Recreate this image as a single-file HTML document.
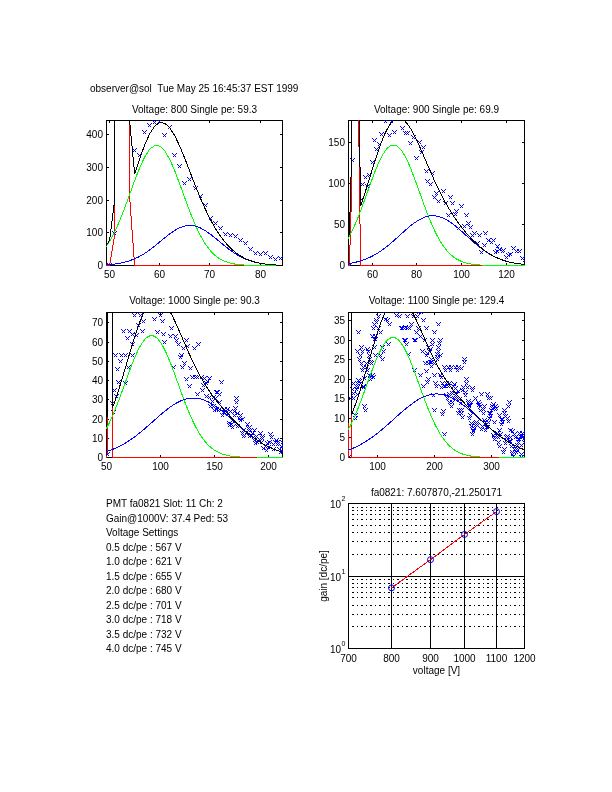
<!DOCTYPE html>
<html><head><meta charset="utf-8"><style>
html,body{margin:0;padding:0;background:#fff;}
svg{display:block;font-family:"Liberation Sans", sans-serif;will-change:transform;}
</style></head><body>
<svg width="612" height="792" viewBox="0 0 612 792">
<defs><clipPath id="clip1"><rect x="106" y="120" width="177" height="146"/></clipPath><clipPath id="clip2"><rect x="348" y="120" width="177" height="146"/></clipPath><clipPath id="clip3"><rect x="106" y="312" width="177" height="146"/></clipPath><clipPath id="clip4"><rect x="348" y="312" width="177" height="146"/></clipPath><clipPath id="clip5"><rect x="348" y="503" width="177" height="146"/></clipPath></defs>
<rect width="612" height="792" fill="#fff"/>
<text x="90.00" y="92.00" text-anchor="start" font-size="10" xml:space="preserve" style="white-space:pre">observer@sol  Tue May 25 16:45:37 EST 1999</text>
<rect x="106.5" y="120.5" width="176" height="145" fill="none" stroke="#000" stroke-width="1" shape-rendering="crispEdges"/>
<text x="109.50" y="277.50" text-anchor="middle" font-size="10" >50</text>
<text x="159.50" y="277.50" text-anchor="middle" font-size="10" >60</text>
<text x="209.50" y="277.50" text-anchor="middle" font-size="10" >70</text>
<text x="260.50" y="277.50" text-anchor="middle" font-size="10" >80</text>
<path d="M109.5 265V263M109.5 121V123M159.5 265V263M159.5 121V123M209.5 265V263M209.5 121V123M260.5 265V263M260.5 121V123" stroke="#000" stroke-width="1" shape-rendering="crispEdges"/>
<text x="103.00" y="269.00" text-anchor="end" font-size="10" >0</text>
<text x="103.00" y="236.00" text-anchor="end" font-size="10" >100</text>
<text x="103.00" y="204.00" text-anchor="end" font-size="10" >200</text>
<text x="103.00" y="171.00" text-anchor="end" font-size="10" >300</text>
<text x="103.00" y="138.00" text-anchor="end" font-size="10" >400</text>
<path d="M107 265.5H109M282 265.5H280M107 232.5H109M282 232.5H280M107 200.5H109M282 200.5H280M107 167.5H109M282 167.5H280M107 134.5H109M282 134.5H280" stroke="#000" stroke-width="1" shape-rendering="crispEdges"/>
<text x="194.50" y="113.00" text-anchor="middle" font-size="10" >Voltage: 800 Single pe: 59.3</text>
<path d="M107.50 263.50L111.50 267.50M107.50 267.50L111.50 263.50M112.50 231.50L116.50 235.50M112.50 235.50L116.50 231.50M117.50 -1373.50L121.50 -1369.50M117.50 -1369.50L121.50 -1373.50M122.50 -1373.50L126.50 -1369.50M122.50 -1369.50L126.50 -1373.50M127.50 -1373.50L131.50 -1369.50M127.50 -1369.50L131.50 -1373.50M132.50 148.50L136.50 152.50M132.50 152.50L136.50 148.50M137.50 153.50L141.50 157.50M137.50 157.50L141.50 153.50M142.50 130.50L146.50 134.50M142.50 134.50L146.50 130.50M147.50 123.50L151.50 127.50M147.50 127.50L151.50 123.50M152.50 120.50L156.50 124.50M152.50 124.50L156.50 120.50M157.50 119.50L161.50 123.50M157.50 123.50L161.50 119.50M162.50 133.50L166.50 137.50M162.50 137.50L166.50 133.50M167.50 125.50L171.50 129.50M167.50 129.50L171.50 125.50M172.50 153.50L176.50 157.50M172.50 157.50L176.50 153.50M177.50 164.50L181.50 168.50M177.50 168.50L181.50 164.50M182.50 181.50L186.50 185.50M182.50 185.50L186.50 181.50M187.50 177.50L191.50 181.50M187.50 181.50L191.50 177.50M193.50 186.50L197.50 190.50M193.50 190.50L197.50 186.50M198.50 194.50L202.50 198.50M198.50 198.50L202.50 194.50M203.50 203.50L207.50 207.50M203.50 207.50L207.50 203.50M208.50 216.50L212.50 220.50M208.50 220.50L212.50 216.50M213.50 221.50L217.50 225.50M213.50 225.50L217.50 221.50M218.50 226.50L222.50 230.50M218.50 230.50L222.50 226.50M223.50 232.50L227.50 236.50M223.50 236.50L227.50 232.50M228.50 233.50L232.50 237.50M228.50 237.50L232.50 233.50M233.50 234.50L237.50 238.50M233.50 238.50L237.50 234.50M238.50 238.50L242.50 242.50M238.50 242.50L242.50 238.50M243.50 241.50L247.50 245.50M243.50 245.50L247.50 241.50M248.50 247.50L252.50 251.50M248.50 251.50L252.50 247.50M253.50 251.50L257.50 255.50M253.50 255.50L257.50 251.50M258.50 252.50L262.50 256.50M258.50 256.50L262.50 252.50M263.50 251.50L267.50 255.50M263.50 255.50L267.50 251.50M268.50 255.50L272.50 259.50M268.50 259.50L272.50 255.50M273.50 257.50L277.50 261.50M273.50 261.50L277.50 257.50M278.50 256.50L282.50 260.50M278.50 260.50L282.50 256.50" stroke="#0000ff" stroke-width="1" fill="none" clip-path="url(#clip1)" shape-rendering="crispEdges"/>
<path d="M106.00 265.50L109.52 265.49L114.55 236.03L114.82 120.00M129.49 120.00L129.63 197.23L134.66 265.47L139.69 265.50L144.72 265.50L149.75 265.50L154.77 265.50L159.80 265.50L164.83 265.50L169.86 265.50L174.89 265.50L179.92 265.50L184.95 265.50L189.97 265.50L195.00 265.50L200.03 265.50L205.06 265.50L210.09 265.50L215.12 265.50L220.15 265.50L225.17 265.50L230.20 265.50L235.23 265.50L240.26 265.50L245.29 265.50L250.32 265.50L255.35 265.50L260.38 265.50L265.40 265.50L270.43 265.50L275.46 265.50L280.49 265.50L283.00 265.50" fill="none" stroke="#ff0000" stroke-width="1" shape-rendering="crispEdges"/>
<path d="M106.00 246.51L109.52 241.39L114.55 232.13L119.57 220.97L124.60 208.22L129.63 194.48L134.66 180.61L139.69 167.69L144.72 156.87L149.75 149.19L154.77 145.46L159.80 146.08L164.83 150.97L169.86 159.62L174.89 171.15L179.92 184.45L184.95 198.38L189.97 211.92L195.00 224.27L200.03 234.92L205.06 243.63L210.09 250.43L215.12 255.49L220.15 259.09L225.17 261.54L230.20 263.14L235.23 264.15L240.26 264.75L245.29 265.10L250.32 265.30L255.35 265.40L260.38 265.45L265.40 265.48L270.43 265.49L275.46 265.50L280.49 265.50L283.00 265.50" fill="none" stroke="#00ff00" stroke-width="1" shape-rendering="crispEdges"/>
<path d="M134.66 265.5H241" stroke="#ff0000" stroke-width="1" shape-rendering="crispEdges"/>
<path d="M106.00 264.85L109.52 264.61L114.55 264.08L119.57 263.32L124.60 262.24L129.63 260.77L134.66 258.83L139.69 256.39L144.72 253.42L149.75 249.94L154.77 246.06L159.80 241.92L164.83 237.74L169.86 233.79L174.89 230.33L179.92 227.64L184.95 225.94L189.97 225.38L195.00 226.01L200.03 227.77L205.06 230.52L210.09 234.01L215.12 237.99L220.15 242.17L225.17 246.30L230.20 250.17L235.23 253.61L240.26 256.55L245.29 258.96L250.32 260.87L255.35 262.31L260.38 263.37L265.40 264.12L270.43 264.63L275.46 264.97L280.49 265.19L283.00 265.25" fill="none" stroke="#0000ff" stroke-width="1" shape-rendering="crispEdges"/>
<path d="M106.00 245.86L109.52 240.49L114.55 201.24L114.74 120.00M129.63 120.00L129.63 121.48L134.66 173.91L139.69 158.58L144.72 144.78L149.75 133.64L154.77 126.02L159.80 122.50L164.83 123.22L169.86 127.91L174.89 135.97L179.92 146.58L184.95 158.82L189.97 171.80L195.00 184.78L200.03 197.19L205.06 208.65L210.09 218.94L215.12 227.98L220.15 235.76L225.17 242.34L230.20 247.81L235.23 252.26L240.26 255.80L245.29 258.57L250.32 260.66L255.35 262.21L260.38 263.32L265.40 264.10L270.43 264.62L275.46 264.97L280.49 265.18L283.00 265.25" fill="none" stroke="#000000" stroke-width="1" shape-rendering="crispEdges"/>
<rect x="348.5" y="120.5" width="176" height="145" fill="none" stroke="#000" stroke-width="1" shape-rendering="crispEdges"/>
<text x="372.50" y="277.50" text-anchor="middle" font-size="10" >60</text>
<text x="416.50" y="277.50" text-anchor="middle" font-size="10" >80</text>
<text x="461.50" y="277.50" text-anchor="middle" font-size="10" >100</text>
<text x="506.50" y="277.50" text-anchor="middle" font-size="10" >120</text>
<path d="M372.5 265V263M372.5 121V123M416.5 265V263M416.5 121V123M461.5 265V263M461.5 121V123M506.5 265V263M506.5 121V123" stroke="#000" stroke-width="1" shape-rendering="crispEdges"/>
<text x="345.00" y="269.00" text-anchor="end" font-size="10" >0</text>
<text x="345.00" y="228.00" text-anchor="end" font-size="10" >50</text>
<text x="345.00" y="187.00" text-anchor="end" font-size="10" >100</text>
<text x="345.00" y="146.00" text-anchor="end" font-size="10" >150</text>
<path d="M349 265.5H351M524 265.5H522M349 224.5H351M524 224.5H522M349 183.5H351M524 183.5H522M349 142.5H351M524 142.5H522" stroke="#000" stroke-width="1" shape-rendering="crispEdges"/>
<text x="436.50" y="113.00" text-anchor="middle" font-size="10" >Voltage: 900 Single pe: 69.9</text>
<path d="M350.50 158.50L354.50 162.50M350.50 162.50L354.50 158.50M360.50 182.50L364.50 186.50M360.50 186.50L364.50 182.50M363.50 175.50L367.50 179.50M363.50 179.50L367.50 175.50M367.50 173.50L371.50 177.50M367.50 177.50L371.50 173.50M365.50 184.50L369.50 188.50M365.50 188.50L369.50 184.50M370.50 160.50L374.50 164.50M370.50 164.50L374.50 160.50M374.50 147.50L378.50 151.50M374.50 151.50L378.50 147.50M377.50 142.50L381.50 146.50M377.50 146.50L381.50 142.50M372.50 138.50L376.50 142.50M372.50 142.50L376.50 138.50M379.50 132.50L383.50 136.50M379.50 136.50L383.50 132.50M383.50 119.50L387.50 123.50M383.50 123.50L387.50 119.50M389.50 119.50L393.50 123.50M389.50 123.50L393.50 119.50M387.50 133.50L391.50 137.50M387.50 137.50L391.50 133.50M392.50 130.50L396.50 134.50M392.50 134.50L396.50 130.50M400.50 126.50L404.50 130.50M400.50 130.50L404.50 126.50M403.50 131.50L407.50 135.50M403.50 135.50L407.50 131.50M405.50 131.50L409.50 135.50M405.50 135.50L409.50 131.50M411.50 135.50L415.50 139.50M411.50 139.50L415.50 135.50M408.50 141.50L412.50 145.50M408.50 145.50L412.50 141.50M417.50 140.50L421.50 144.50M417.50 144.50L421.50 140.50M421.50 145.50L425.50 149.50M421.50 149.50L425.50 145.50M419.50 150.50L423.50 154.50M419.50 154.50L423.50 150.50M414.50 156.50L418.50 160.50M414.50 160.50L418.50 156.50M424.50 169.50L428.50 173.50M424.50 173.50L428.50 169.50M430.50 171.50L434.50 175.50M430.50 175.50L434.50 171.50M425.50 179.50L429.50 183.50M425.50 183.50L429.50 179.50M428.50 182.50L432.50 186.50M428.50 186.50L432.50 182.50M434.50 191.50L438.50 195.50M434.50 195.50L438.50 191.50M441.50 189.50L445.50 193.50M441.50 193.50L445.50 189.50M432.50 195.50L436.50 199.50M432.50 199.50L436.50 195.50M436.50 199.50L440.50 203.50M436.50 203.50L440.50 199.50M448.50 195.50L452.50 199.50M448.50 199.50L452.50 195.50M443.50 201.50L447.50 205.50M443.50 205.50L447.50 201.50M450.50 201.50L454.50 205.50M450.50 205.50L454.50 201.50M459.50 204.50L463.50 208.50M459.50 208.50L463.50 204.50M454.50 209.50L458.50 213.50M454.50 213.50L458.50 209.50M359.50 197.50L363.50 201.50M359.50 201.50L363.50 197.50M347.50 263.50L351.50 267.50M347.50 267.50L351.50 263.50M446.50 213.50L450.50 217.50M446.50 217.50L450.50 213.50M453.50 212.50L457.50 216.50M453.50 216.50L457.50 212.50M464.50 213.50L468.50 217.50M464.50 217.50L468.50 213.50M466.50 221.50L470.50 225.50M466.50 225.50L470.50 221.50M462.50 224.50L466.50 228.50M462.50 228.50L466.50 224.50M468.50 225.50L472.50 229.50M468.50 229.50L472.50 225.50M456.50 226.50L460.50 230.50M456.50 230.50L460.50 226.50M472.50 231.50L476.50 235.50M472.50 235.50L476.50 231.50M470.50 233.50L474.50 237.50M470.50 237.50L474.50 233.50M477.50 233.50L481.50 237.50M477.50 237.50L481.50 233.50M483.50 231.50L487.50 235.50M483.50 235.50L487.50 231.50M475.50 241.50L479.50 245.50M475.50 245.50L479.50 241.50M482.50 243.50L486.50 247.50M482.50 247.50L486.50 243.50M486.50 238.50L490.50 242.50M486.50 242.50L490.50 238.50M489.50 240.50L493.50 244.50M489.50 244.50L493.50 240.50M491.50 238.50L495.50 242.50M491.50 242.50L495.50 238.50M479.50 250.50L483.50 254.50M479.50 254.50L483.50 250.50M495.50 244.50L499.50 248.50M495.50 248.50L499.50 244.50M493.50 250.50L497.50 254.50M493.50 254.50L497.50 250.50M497.50 247.50L501.50 251.50M497.50 251.50L501.50 247.50M495.50 249.50L499.50 253.50M495.50 253.50L499.50 249.50M500.50 249.50L504.50 253.50M500.50 253.50L504.50 249.50M501.50 248.50L505.50 252.50M501.50 252.50L505.50 248.50M504.50 255.50L508.50 259.50M504.50 259.50L508.50 255.50M508.50 252.50L512.50 256.50M508.50 256.50L512.50 252.50M511.50 246.50L515.50 250.50M511.50 250.50L515.50 246.50M514.50 249.50L518.50 253.50M514.50 253.50L518.50 249.50M517.50 249.50L521.50 253.50M517.50 253.50L521.50 249.50M520.50 256.50L524.50 260.50M520.50 260.50L524.50 256.50M522.50 258.50L526.50 262.50M522.50 262.50L526.50 258.50M506.50 253.50L510.50 257.50M506.50 257.50L510.50 253.50" stroke="#0000ff" stroke-width="1" fill="none" clip-path="url(#clip2)" shape-rendering="crispEdges"/>
<path d="M348.00 265.49L349.39 265.48L351.63 191.71L351.66 120.00M358.66 120.00L360.56 265.42L362.79 265.50L365.03 265.50L367.26 265.50L369.49 265.50L371.73 265.50L373.96 265.50L376.19 265.50L378.43 265.50L380.66 265.50L382.89 265.50L385.13 265.50L387.36 265.50L389.59 265.50L391.83 265.50L394.06 265.50L396.29 265.50L398.53 265.50L400.76 265.50L402.99 265.50L405.23 265.50L407.46 265.50L409.69 265.50L411.93 265.50L414.16 265.50L416.39 265.50L418.63 265.50L420.86 265.50L423.09 265.50L425.33 265.50L427.56 265.50L429.79 265.50L432.03 265.50L434.26 265.50L436.49 265.50L438.73 265.50L440.96 265.50L443.19 265.50L445.43 265.50L447.66 265.50L449.89 265.50L452.13 265.50L454.36 265.50L456.59 265.50L458.83 265.50L461.06 265.50L463.29 265.50L465.52 265.50L467.76 265.50L469.99 265.50L472.22 265.50L474.46 265.50L476.69 265.50L478.92 265.50L481.16 265.50L483.39 265.50L485.62 265.50L487.86 265.50L490.09 265.50L492.32 265.50L494.56 265.50L496.79 265.50L499.02 265.50L501.26 265.50L503.49 265.50L505.72 265.50L507.96 265.50L510.19 265.50L512.42 265.50L514.66 265.50L516.89 265.50L519.12 265.50L521.36 265.50L523.59 265.50L525.00 265.50" fill="none" stroke="#ff0000" stroke-width="1" shape-rendering="crispEdges"/>
<path d="M348.00 238.91L349.39 236.42L351.63 232.03L353.86 227.26L356.09 222.13L358.33 216.68L360.56 210.93L362.79 204.95L365.03 198.81L367.26 192.58L369.49 186.34L371.73 180.20L373.96 174.25L376.19 168.60L378.43 163.34L380.66 158.58L382.89 154.42L385.13 150.93L387.36 148.20L389.59 146.27L391.83 145.19L394.06 144.99L396.29 145.67L398.53 147.21L400.76 149.58L402.99 152.73L405.23 156.59L407.46 161.08L409.69 166.12L411.93 171.61L414.16 177.43L416.39 183.50L418.63 189.70L420.86 195.95L423.09 202.14L425.33 208.21L427.56 214.07L429.79 219.66L432.03 224.95L434.26 229.88L436.49 234.45L438.73 238.62L440.96 242.41L443.19 245.80L445.43 248.82L447.66 251.48L449.89 253.80L452.13 255.81L454.36 257.53L456.59 258.99L458.83 260.23L461.06 261.26L463.29 262.11L465.52 262.81L467.76 263.39L469.99 263.85L472.22 264.22L474.46 264.51L476.69 264.75L478.92 264.93L481.16 265.07L483.39 265.18L485.62 265.26L487.86 265.32L490.09 265.37L492.32 265.41L494.56 265.43L496.79 265.45L499.02 265.47L501.26 265.48L503.49 265.48L505.72 265.49L507.96 265.49L510.19 265.49L512.42 265.50L514.66 265.50L516.89 265.50L519.12 265.50L521.36 265.50L523.59 265.50L525.00 265.50" fill="none" stroke="#00ff00" stroke-width="1" shape-rendering="crispEdges"/>
<path d="M360.56 265.5H482" stroke="#ff0000" stroke-width="1" shape-rendering="crispEdges"/>
<path d="M348.00 263.62L349.39 263.41L351.63 263.03L353.86 262.60L356.09 262.10L358.33 261.53L360.56 260.90L362.79 260.18L365.03 259.38L367.26 258.49L369.49 257.50L371.73 256.43L373.96 255.25L376.19 253.97L378.43 252.59L380.66 251.11L382.89 249.54L385.13 247.87L387.36 246.12L389.59 244.28L391.83 242.38L394.06 240.43L396.29 238.43L398.53 236.41L400.76 234.38L402.99 232.35L405.23 230.35L407.46 228.41L409.69 226.53L411.93 224.74L414.16 223.06L416.39 221.52L418.63 220.12L420.86 218.89L423.09 217.85L425.33 217.00L427.56 216.36L429.79 215.94L432.03 215.74L434.26 215.77L436.49 216.02L438.73 216.50L440.96 217.19L443.19 218.08L445.43 219.17L447.66 220.44L449.89 221.87L452.13 223.45L454.36 225.16L456.59 226.97L458.83 228.87L461.06 230.83L463.29 232.83L465.52 234.86L467.76 236.90L469.99 238.91L472.22 240.90L474.46 242.85L476.69 244.73L478.92 246.54L481.16 248.28L483.39 249.92L485.62 251.48L487.86 252.93L490.09 254.29L492.32 255.54L494.56 256.69L496.79 257.75L499.02 258.71L501.26 259.58L503.49 260.36L505.72 261.06L507.96 261.68L510.19 262.22L512.42 262.71L514.66 263.13L516.89 263.50L519.12 263.82L521.36 264.09L523.59 264.32L525.00 264.45" fill="none" stroke="#0000ff" stroke-width="1" shape-rendering="crispEdges"/>
<path d="M348.00 237.02L349.39 234.31L351.63 155.78L351.64 120.00M359.39 120.00L360.56 206.25L362.79 199.63L365.03 192.69L367.26 185.56L369.49 178.35L371.73 171.12L373.96 164.00L376.19 157.06L378.43 150.43L380.66 144.19L382.89 138.45L385.13 133.30L387.36 128.81L389.59 125.05L391.83 122.08L393.98 120.00M403.50 120.00L405.23 121.44L407.46 123.99L409.69 127.15L411.93 130.84L414.16 134.99L416.39 139.51L418.63 144.32L420.86 149.34L423.09 154.49L425.33 159.71L427.56 164.93L429.79 170.10L432.03 175.19L434.26 180.15L436.49 184.97L438.73 189.62L440.96 194.09L443.19 198.38L445.43 202.49L447.66 206.42L449.89 210.17L452.13 213.76L454.36 217.19L456.59 220.46L458.83 223.59L461.06 226.59L463.29 229.45L465.52 232.18L467.76 234.78L469.99 237.26L472.22 239.62L474.46 241.86L476.69 243.98L478.92 245.97L481.16 247.85L483.39 249.60L485.62 251.24L487.86 252.75L490.09 254.16L492.32 255.45L494.56 256.63L496.79 257.70L499.02 258.67L501.26 259.55L503.49 260.34L505.72 261.04L507.96 261.67L510.19 262.22L512.42 262.70L514.66 263.13L516.89 263.50L519.12 263.81L521.36 264.09L523.59 264.32L525.00 264.45" fill="none" stroke="#000000" stroke-width="1" shape-rendering="crispEdges"/>
<rect x="106.5" y="312.5" width="176" height="145" fill="none" stroke="#000" stroke-width="1" shape-rendering="crispEdges"/>
<text x="106.50" y="469.50" text-anchor="middle" font-size="10" >50</text>
<text x="160.50" y="469.50" text-anchor="middle" font-size="10" >100</text>
<text x="214.50" y="469.50" text-anchor="middle" font-size="10" >150</text>
<text x="268.50" y="469.50" text-anchor="middle" font-size="10" >200</text>
<path d="M106.5 457V455M106.5 313V315M160.5 457V455M160.5 313V315M214.5 457V455M214.5 313V315M268.5 457V455M268.5 313V315" stroke="#000" stroke-width="1" shape-rendering="crispEdges"/>
<text x="103.00" y="461.00" text-anchor="end" font-size="10" >0</text>
<text x="103.00" y="442.00" text-anchor="end" font-size="10" >10</text>
<text x="103.00" y="423.00" text-anchor="end" font-size="10" >20</text>
<text x="103.00" y="403.00" text-anchor="end" font-size="10" >30</text>
<text x="103.00" y="384.00" text-anchor="end" font-size="10" >40</text>
<text x="103.00" y="365.00" text-anchor="end" font-size="10" >50</text>
<text x="103.00" y="346.00" text-anchor="end" font-size="10" >60</text>
<text x="103.00" y="326.00" text-anchor="end" font-size="10" >70</text>
<path d="M107 457.5H109M282 457.5H280M107 438.5H109M282 438.5H280M107 419.5H109M282 419.5H280M107 399.5H109M282 399.5H280M107 380.5H109M282 380.5H280M107 361.5H109M282 361.5H280M107 342.5H109M282 342.5H280M107 322.5H109M282 322.5H280" stroke="#000" stroke-width="1" shape-rendering="crispEdges"/>
<text x="194.50" y="304.00" text-anchor="middle" font-size="10" >Voltage: 1000 Single pe: 90.3</text>
<path d="M132.50 313.50L136.50 317.50M132.50 317.50L136.50 313.50M138.50 313.50L142.50 317.50M138.50 317.50L142.50 313.50M141.50 319.50L145.50 323.50M141.50 323.50L145.50 319.50M136.50 323.50L140.50 327.50M136.50 327.50L140.50 323.50M121.50 329.50L125.50 333.50M121.50 333.50L125.50 329.50M127.50 329.50L131.50 333.50M127.50 333.50L131.50 329.50M140.50 329.50L144.50 333.50M140.50 333.50L144.50 329.50M130.50 332.50L134.50 336.50M130.50 336.50L134.50 332.50M134.50 333.50L138.50 337.50M134.50 337.50L138.50 333.50M125.50 336.50L129.50 340.50M125.50 340.50L129.50 336.50M130.50 342.50L134.50 346.50M130.50 346.50L134.50 342.50M113.50 353.50L117.50 357.50M113.50 357.50L117.50 353.50M119.50 353.50L123.50 357.50M119.50 357.50L123.50 353.50M123.50 353.50L127.50 357.50M123.50 357.50L127.50 353.50M130.50 353.50L134.50 357.50M130.50 357.50L134.50 353.50M118.50 359.50L122.50 363.50M118.50 363.50L122.50 359.50M115.50 367.50L119.50 371.50M115.50 371.50L119.50 367.50M126.50 365.50L130.50 369.50M126.50 369.50L130.50 365.50M116.50 380.50L120.50 384.50M116.50 384.50L120.50 380.50M123.50 381.50L127.50 385.50M123.50 385.50L127.50 381.50M152.50 317.50L156.50 321.50M152.50 321.50L156.50 317.50M158.50 313.50L162.50 317.50M158.50 317.50L162.50 313.50M160.50 319.50L164.50 323.50M160.50 323.50L164.50 319.50M155.50 330.50L159.50 334.50M155.50 334.50L159.50 330.50M161.50 332.50L165.50 336.50M161.50 336.50L165.50 332.50M169.50 326.50L173.50 330.50M169.50 330.50L173.50 326.50M161.50 332.50L165.50 336.50M161.50 336.50L165.50 332.50M168.50 334.50L172.50 338.50M168.50 338.50L172.50 334.50M173.50 334.50L177.50 338.50M173.50 338.50L177.50 334.50M174.50 338.50L178.50 342.50M174.50 342.50L178.50 338.50M162.50 340.50L166.50 344.50M162.50 344.50L166.50 340.50M176.50 342.50L180.50 346.50M176.50 346.50L180.50 342.50M184.50 338.50L188.50 342.50M184.50 342.50L188.50 338.50M185.50 344.50L189.50 348.50M185.50 348.50L189.50 344.50M181.50 346.50L185.50 350.50M181.50 350.50L185.50 346.50M192.50 346.50L196.50 350.50M192.50 350.50L196.50 346.50M196.50 342.50L200.50 346.50M196.50 346.50L200.50 342.50M179.50 353.50L183.50 357.50M179.50 357.50L183.50 353.50M178.50 355.50L182.50 359.50M178.50 359.50L182.50 355.50M182.50 361.50L186.50 365.50M182.50 365.50L186.50 361.50M180.50 365.50L184.50 369.50M180.50 369.50L184.50 365.50M171.50 365.50L175.50 369.50M171.50 369.50L175.50 365.50M188.50 366.50L192.50 370.50M188.50 370.50L192.50 366.50M184.50 377.50L188.50 381.50M184.50 381.50L188.50 377.50M190.50 375.50L194.50 379.50M190.50 379.50L194.50 375.50M193.50 375.50L197.50 379.50M193.50 379.50L197.50 375.50M195.50 375.50L199.50 379.50M195.50 379.50L199.50 375.50M199.50 375.50L203.50 379.50M199.50 379.50L203.50 375.50M202.50 376.50L206.50 380.50M202.50 380.50L206.50 376.50M205.50 379.50L209.50 383.50M205.50 383.50L209.50 379.50M187.50 384.50L191.50 388.50M187.50 388.50L191.50 384.50M201.50 383.50L205.50 387.50M201.50 387.50L205.50 383.50M219.50 380.50L223.50 384.50M219.50 384.50L223.50 380.50M215.50 390.50L219.50 394.50M215.50 394.50L219.50 390.50M217.50 392.50L221.50 396.50M217.50 396.50L221.50 392.50M213.50 396.50L217.50 400.50M213.50 400.50L217.50 396.50M112.50 388.50L116.50 392.50M112.50 392.50L116.50 388.50M114.50 394.50L118.50 398.50M114.50 398.50L118.50 394.50M110.50 401.50L114.50 405.50M110.50 405.50L114.50 401.50M111.50 410.50L115.50 414.50M111.50 414.50L115.50 410.50M105.50 452.50L109.50 456.50M105.50 456.50L109.50 452.50M200.50 388.50L204.50 392.50M200.50 392.50L204.50 388.50M195.50 392.50L199.50 396.50M195.50 396.50L199.50 392.50M204.50 394.50L208.50 398.50M204.50 398.50L208.50 394.50M207.50 395.50L211.50 399.50M207.50 399.50L211.50 395.50M214.50 390.50L218.50 394.50M214.50 394.50L218.50 390.50M208.50 404.50L212.50 408.50M208.50 408.50L212.50 404.50M212.50 408.50L216.50 412.50M212.50 412.50L216.50 408.50M216.50 408.50L220.50 412.50M216.50 412.50L220.50 408.50M204.50 381.50L208.50 385.50M204.50 385.50L208.50 381.50M211.50 395.50L215.50 399.50M211.50 399.50L215.50 395.50M217.50 400.50L221.50 404.50M217.50 404.50L221.50 400.50M234.50 400.50L238.50 404.50M234.50 404.50L238.50 400.50M211.50 404.50L215.50 408.50M211.50 408.50L215.50 404.50M214.50 407.50L218.50 411.50M214.50 411.50L218.50 407.50M222.50 407.50L226.50 411.50M222.50 411.50L226.50 407.50M225.50 407.50L229.50 411.50M225.50 411.50L229.50 407.50M228.50 409.50L232.50 413.50M228.50 413.50L232.50 409.50M232.50 409.50L236.50 413.50M232.50 413.50L236.50 409.50M235.50 411.50L239.50 415.50M235.50 415.50L239.50 411.50M232.50 413.50L236.50 417.50M232.50 417.50L236.50 413.50M238.50 413.50L242.50 417.50M238.50 417.50L242.50 413.50M220.50 413.50L224.50 417.50M220.50 417.50L224.50 413.50M240.50 417.50L244.50 421.50M240.50 421.50L244.50 417.50M238.50 418.50L242.50 422.50M238.50 422.50L242.50 418.50M227.50 421.50L231.50 425.50M227.50 425.50L231.50 421.50M245.50 422.50L249.50 426.50M245.50 426.50L249.50 422.50M235.50 424.50L239.50 428.50M235.50 428.50L239.50 424.50M227.50 423.50L231.50 427.50M227.50 427.50L231.50 423.50M230.50 425.50L234.50 429.50M230.50 429.50L234.50 425.50M247.50 425.50L251.50 429.50M247.50 429.50L251.50 425.50M241.50 428.50L245.50 432.50M241.50 432.50L245.50 428.50M252.50 428.50L256.50 432.50M252.50 432.50L256.50 428.50M244.50 430.50L248.50 434.50M244.50 434.50L248.50 430.50M250.50 431.50L254.50 435.50M250.50 435.50L254.50 431.50M241.50 434.50L245.50 438.50M241.50 438.50L245.50 434.50M247.50 434.50L251.50 438.50M247.50 438.50L251.50 434.50M258.50 431.50L262.50 435.50M258.50 435.50L262.50 431.50M254.50 434.50L258.50 438.50M254.50 438.50L258.50 434.50M260.50 434.50L264.50 438.50M260.50 438.50L264.50 434.50M251.50 435.50L255.50 439.50M251.50 439.50L255.50 435.50M252.50 438.50L256.50 442.50M252.50 442.50L256.50 438.50M257.50 437.50L261.50 441.50M257.50 441.50L261.50 437.50M269.50 435.50L273.50 439.50M269.50 439.50L273.50 435.50M274.50 438.50L278.50 442.50M274.50 442.50L278.50 438.50M259.50 440.50L263.50 444.50M259.50 444.50L263.50 440.50M265.50 441.50L269.50 445.50M265.50 445.50L269.50 441.50M267.50 440.50L271.50 444.50M267.50 444.50L271.50 440.50M271.50 442.50L275.50 446.50M271.50 446.50L275.50 442.50M263.50 444.50L267.50 448.50M263.50 448.50L267.50 444.50M261.50 446.50L265.50 450.50M261.50 450.50L265.50 446.50M275.50 442.50L279.50 446.50M275.50 446.50L279.50 442.50M280.50 440.50L284.50 444.50M280.50 444.50L284.50 440.50M277.50 447.50L281.50 451.50M277.50 451.50L281.50 447.50M271.50 447.50L275.50 451.50M271.50 451.50L275.50 447.50M279.50 444.50L283.50 448.50M279.50 448.50L283.50 444.50M280.50 449.50L284.50 453.50M280.50 453.50L284.50 449.50M207.50 376.50L211.50 380.50M207.50 380.50L211.50 376.50M210.50 399.50L214.50 403.50M210.50 403.50L214.50 399.50M221.50 410.50L225.50 414.50M221.50 414.50L225.50 410.50M222.50 410.50L226.50 414.50M222.50 414.50L226.50 410.50M224.50 410.50L228.50 414.50M224.50 414.50L228.50 410.50M226.50 411.50L230.50 415.50M226.50 415.50L230.50 411.50M229.50 422.50L233.50 426.50M229.50 426.50L233.50 422.50M233.50 406.50L237.50 410.50M233.50 410.50L237.50 406.50M234.50 396.50L238.50 400.50M234.50 400.50L238.50 396.50M237.50 416.50L241.50 420.50M237.50 420.50L241.50 416.50M240.50 431.50L244.50 435.50M240.50 435.50L244.50 431.50M242.50 433.50L246.50 437.50M242.50 437.50L246.50 433.50M246.50 426.50L250.50 430.50M246.50 430.50L250.50 426.50M248.50 428.50L252.50 432.50M248.50 432.50L252.50 428.50M249.50 433.50L253.50 437.50M249.50 437.50L253.50 433.50M253.50 441.50L257.50 445.50M253.50 445.50L257.50 441.50M255.50 440.50L259.50 444.50M255.50 444.50L259.50 440.50M260.50 436.50L264.50 440.50M260.50 440.50L264.50 436.50M264.50 448.50L268.50 452.50M264.50 452.50L268.50 448.50M266.50 445.50L270.50 449.50M266.50 449.50L270.50 445.50M268.50 432.50L272.50 436.50M268.50 436.50L272.50 432.50M273.50 440.50L277.50 444.50M273.50 444.50L277.50 440.50M275.50 440.50L279.50 444.50M275.50 444.50L279.50 440.50M278.50 450.50L282.50 454.50M278.50 454.50L282.50 450.50" stroke="#0000ff" stroke-width="1" fill="none" clip-path="url(#clip3)" shape-rendering="crispEdges"/>
<path d="M106.00 457.50L107.00 457.46L107.90 312.00M112.01 312.00L112.40 457.32L113.48 457.50L114.56 457.50L115.64 457.50L116.72 457.50L117.80 457.50L118.88 457.50L119.96 457.50L121.04 457.50L122.12 457.50L123.20 457.50L124.28 457.50L125.36 457.50L126.44 457.50L127.52 457.50L128.60 457.50L129.68 457.50L130.76 457.50L131.84 457.50L132.92 457.50L134.00 457.50L135.08 457.50L136.16 457.50L137.24 457.50L138.32 457.50L139.40 457.50L140.48 457.50L141.56 457.50L142.64 457.50L143.72 457.50L144.80 457.50L145.88 457.50L146.96 457.50L148.04 457.50L149.12 457.50L150.20 457.50L151.28 457.50L152.36 457.50L153.44 457.50L154.52 457.50L155.60 457.50L156.68 457.50L157.76 457.50L158.84 457.50L159.92 457.50L161.00 457.50L162.08 457.50L163.16 457.50L164.24 457.50L165.32 457.50L166.40 457.50L167.48 457.50L168.56 457.50L169.64 457.50L170.72 457.50L171.80 457.50L172.88 457.50L173.96 457.50L175.04 457.50L176.12 457.50L177.20 457.50L178.28 457.50L179.36 457.50L180.44 457.50L181.52 457.50L182.60 457.50L183.68 457.50L184.76 457.50L185.84 457.50L186.92 457.50L188.00 457.50L189.08 457.50L190.16 457.50L191.24 457.50L192.32 457.50L193.40 457.50L194.48 457.50L195.56 457.50L196.64 457.50L197.72 457.50L198.80 457.50L199.88 457.50L200.96 457.50L202.04 457.50L203.12 457.50L204.20 457.50L205.28 457.50L206.36 457.50L207.44 457.50L208.52 457.50L209.60 457.50L210.68 457.50L211.76 457.50L212.84 457.50L213.92 457.50L215.00 457.50L216.08 457.50L217.16 457.50L218.24 457.50L219.32 457.50L220.40 457.50L221.48 457.50L222.56 457.50L223.64 457.50L224.72 457.50L225.80 457.50L226.88 457.50L227.96 457.50L229.04 457.50L230.12 457.50L231.20 457.50L232.28 457.50L233.36 457.50L234.44 457.50L235.52 457.50L236.60 457.50L237.68 457.50L238.76 457.50L239.84 457.50L240.92 457.50L242.00 457.50L243.08 457.50L244.16 457.50L245.24 457.50L246.32 457.50L247.40 457.50L248.48 457.50L249.56 457.50L250.64 457.50L251.72 457.50L252.80 457.50L253.88 457.50L254.96 457.50L256.04 457.50L257.12 457.50L258.20 457.50L259.28 457.50L260.36 457.50L261.44 457.50L262.52 457.50L263.60 457.50L264.68 457.50L265.76 457.50L266.84 457.50L267.92 457.50L269.00 457.50L270.08 457.50L271.16 457.50L272.24 457.50L273.32 457.50L274.40 457.50L275.48 457.50L276.56 457.50L277.64 457.50L278.72 457.50L279.80 457.50L280.88 457.50L281.96 457.50L283.00 457.50" fill="none" stroke="#ff0000" stroke-width="1" shape-rendering="crispEdges"/>
<path d="M106.00 429.25L107.00 427.40L108.08 425.31L109.16 423.14L110.24 420.88L111.32 418.53L112.40 416.10L113.48 413.59L114.56 411.01L115.64 408.35L116.72 405.63L117.80 402.85L118.88 400.01L119.96 397.13L121.04 394.20L122.12 391.25L123.20 388.27L124.28 385.27L125.36 382.27L126.44 379.28L127.52 376.30L128.60 373.34L129.68 370.42L130.76 367.55L131.84 364.73L132.92 361.99L134.00 359.32L135.08 356.75L136.16 354.28L137.24 351.93L138.32 349.69L139.40 347.60L140.48 345.64L141.56 343.84L142.64 342.20L143.72 340.73L144.80 339.44L145.88 338.32L146.96 337.40L148.04 336.67L149.12 336.13L150.20 335.79L151.28 335.65L152.36 335.71L153.44 335.98L154.52 336.44L155.60 337.10L156.68 337.95L157.76 338.99L158.84 340.22L159.92 341.62L161.00 343.20L162.08 344.94L163.16 346.84L164.24 348.88L165.32 351.06L166.40 353.37L167.48 355.80L168.56 358.33L169.64 360.96L170.72 363.68L171.80 366.47L172.88 369.32L173.96 372.23L175.04 375.17L176.12 378.14L177.20 381.13L178.28 384.13L179.36 387.13L180.44 390.12L181.52 393.08L182.60 396.02L183.68 398.92L184.76 401.78L185.84 404.58L186.92 407.32L188.00 410.00L189.08 412.62L190.16 415.15L191.24 417.61L192.32 419.99L193.40 422.29L194.48 424.50L195.56 426.62L196.64 428.65L197.72 430.60L198.80 432.45L199.88 434.21L200.96 435.89L202.04 437.48L203.12 438.98L204.20 440.40L205.28 441.73L206.36 442.99L207.44 444.17L208.52 445.27L209.60 446.30L210.68 447.26L211.76 448.15L212.84 448.98L213.92 449.75L215.00 450.46L216.08 451.11L217.16 451.72L218.24 452.27L219.32 452.78L220.40 453.25L221.48 453.68L222.56 454.07L223.64 454.42L224.72 454.75L225.80 455.04L226.88 455.31L227.96 455.55L229.04 455.76L230.12 455.96L231.20 456.13L232.28 456.29L233.36 456.43L234.44 456.56L235.52 456.67L236.60 456.77L237.68 456.86L238.76 456.94L239.84 457.01L240.92 457.07L242.00 457.13L243.08 457.18L244.16 457.22L245.24 457.26L246.32 457.29L247.40 457.32L248.48 457.34L249.56 457.36L250.64 457.38L251.72 457.40L252.80 457.41L253.88 457.43L254.96 457.44L256.04 457.45L257.12 457.45L258.20 457.46L259.28 457.47L260.36 457.47L261.44 457.48L262.52 457.48L263.60 457.48L264.68 457.49L265.76 457.49L266.84 457.49L267.92 457.49L269.00 457.49L270.08 457.49L271.16 457.50L272.24 457.50L273.32 457.50L274.40 457.50L275.48 457.50L276.56 457.50L277.64 457.50L278.72 457.50L279.80 457.50L280.88 457.50L281.96 457.50L283.00 457.50" fill="none" stroke="#00ff00" stroke-width="1" shape-rendering="crispEdges"/>
<path d="M112.40 457.5H257" stroke="#ff0000" stroke-width="1" shape-rendering="crispEdges"/>
<path d="M106.00 451.73L107.00 451.42L108.08 451.06L109.16 450.69L110.24 450.31L111.32 449.90L112.40 449.49L113.48 449.05L114.56 448.59L115.64 448.12L116.72 447.63L117.80 447.13L118.88 446.60L119.96 446.05L121.04 445.49L122.12 444.91L123.20 444.31L124.28 443.69L125.36 443.05L126.44 442.39L127.52 441.72L128.60 441.02L129.68 440.31L130.76 439.58L131.84 438.83L132.92 438.06L134.00 437.28L135.08 436.48L136.16 435.66L137.24 434.83L138.32 433.98L139.40 433.12L140.48 432.25L141.56 431.36L142.64 430.46L143.72 429.55L144.80 428.63L145.88 427.70L146.96 426.76L148.04 425.82L149.12 424.87L150.20 423.91L151.28 422.95L152.36 421.99L153.44 421.03L154.52 420.07L155.60 419.11L156.68 418.16L157.76 417.21L158.84 416.26L159.92 415.33L161.00 414.40L162.08 413.48L163.16 412.58L164.24 411.69L165.32 410.82L166.40 409.96L167.48 409.12L168.56 408.30L169.64 407.51L170.72 406.74L171.80 405.99L172.88 405.27L173.96 404.57L175.04 403.91L176.12 403.27L177.20 402.67L178.28 402.10L179.36 401.56L180.44 401.06L181.52 400.59L182.60 400.16L183.68 399.77L184.76 399.42L185.84 399.10L186.92 398.83L188.00 398.60L189.08 398.41L190.16 398.25L191.24 398.15L192.32 398.08L193.40 398.06L194.48 398.07L195.56 398.13L196.64 398.24L197.72 398.38L198.80 398.57L199.88 398.79L200.96 399.06L202.04 399.37L203.12 399.72L204.20 400.10L205.28 400.53L206.36 400.99L207.44 401.49L208.52 402.02L209.60 402.59L210.68 403.18L211.76 403.82L212.84 404.48L213.92 405.17L215.00 405.89L216.08 406.63L217.16 407.40L218.24 408.19L219.32 409.01L220.40 409.84L221.48 410.70L222.56 411.57L223.64 412.45L224.72 413.36L225.80 414.27L226.88 415.20L227.96 416.13L229.04 417.07L230.12 418.02L231.20 418.98L232.28 419.94L233.36 420.90L234.44 421.86L235.52 422.82L236.60 423.78L237.68 424.73L238.76 425.69L239.84 426.63L240.92 427.57L242.00 428.50L243.08 429.42L244.16 430.33L245.24 431.24L246.32 432.12L247.40 433.00L248.48 433.86L249.56 434.71L250.64 435.55L251.72 436.37L252.80 437.17L253.88 437.95L254.96 438.72L256.04 439.47L257.12 440.21L258.20 440.92L259.28 441.62L260.36 442.30L261.44 442.96L262.52 443.60L263.60 444.22L264.68 444.83L265.76 445.41L266.84 445.98L267.92 446.52L269.00 447.05L270.08 447.56L271.16 448.06L272.24 448.53L273.32 448.99L274.40 449.43L275.48 449.85L276.56 450.25L277.64 450.64L278.72 451.01L279.80 451.37L280.88 451.71L281.96 452.04L283.00 452.34" fill="none" stroke="#0000ff" stroke-width="1" shape-rendering="crispEdges"/>
<path d="M106.00 423.47L107.00 421.28L107.67 312.00M112.14 312.00L112.40 407.91L113.48 405.14L114.56 402.10L115.64 398.97L116.72 395.76L117.80 392.47L118.88 389.11L119.96 385.68L121.04 382.20L122.12 378.66L123.20 375.08L124.28 371.46L125.36 367.82L126.44 364.17L127.52 360.51L128.60 356.86L129.68 353.23L130.76 349.62L131.84 346.06L132.92 342.55L134.00 339.10L135.08 335.73L136.16 332.44L137.24 329.26L138.32 326.18L139.40 323.22L140.48 320.39L141.56 317.70L142.64 315.16L143.72 312.78L144.10 312.00M170.21 312.00L170.72 312.92L171.80 314.96L172.88 317.09L173.96 319.30L175.04 321.58L176.12 323.91L177.20 326.30L178.28 328.73L179.36 331.19L180.44 333.67L181.52 336.17L182.60 338.68L183.68 341.19L184.76 343.69L185.84 346.18L186.92 348.65L188.00 351.10L189.08 353.52L190.16 355.91L191.24 358.26L192.32 360.57L193.40 362.84L194.48 365.07L195.56 367.25L196.64 369.39L197.72 371.48L198.80 373.52L199.88 375.51L200.96 377.45L202.04 379.35L203.12 381.20L204.20 383.00L205.28 384.76L206.36 386.48L207.44 388.15L208.52 389.79L209.60 391.38L210.68 392.94L211.76 394.46L212.84 395.95L213.92 397.41L215.00 398.84L216.08 400.24L217.16 401.62L218.24 402.96L219.32 404.29L220.40 405.59L221.48 406.87L222.56 408.14L223.64 409.38L224.72 410.60L225.80 411.81L226.88 413.00L227.96 414.18L229.04 415.34L230.12 416.48L231.20 417.61L232.28 418.73L233.36 419.83L234.44 420.92L235.52 421.99L236.60 423.05L237.68 424.09L238.76 425.13L239.84 426.14L240.92 427.14L242.00 428.13L243.08 429.10L244.16 430.05L245.24 430.99L246.32 431.91L247.40 432.82L248.48 433.71L249.56 434.58L250.64 435.43L251.72 436.26L252.80 437.08L253.88 437.88L254.96 438.66L256.04 439.42L257.12 440.16L258.20 440.88L259.28 441.59L260.36 442.27L261.44 442.94L262.52 443.58L263.60 444.21L264.68 444.81L265.76 445.40L266.84 445.97L267.92 446.52L269.00 447.05L270.08 447.56L271.16 448.05L272.24 448.53L273.32 448.98L274.40 449.42L275.48 449.84L276.56 450.25L277.64 450.64L278.72 451.01L279.80 451.37L280.88 451.71L281.96 452.03L283.00 452.33" fill="none" stroke="#000000" stroke-width="1" shape-rendering="crispEdges"/>
<rect x="348.5" y="312.5" width="176" height="145" fill="none" stroke="#000" stroke-width="1" shape-rendering="crispEdges"/>
<text x="377.50" y="469.50" text-anchor="middle" font-size="10" >100</text>
<text x="434.50" y="469.50" text-anchor="middle" font-size="10" >200</text>
<text x="491.50" y="469.50" text-anchor="middle" font-size="10" >300</text>
<path d="M377.5 457V455M377.5 313V315M434.5 457V455M434.5 313V315M491.5 457V455M491.5 313V315" stroke="#000" stroke-width="1" shape-rendering="crispEdges"/>
<text x="345.00" y="461.00" text-anchor="end" font-size="10" >0</text>
<text x="345.00" y="441.00" text-anchor="end" font-size="10" >5</text>
<text x="345.00" y="422.00" text-anchor="end" font-size="10" >10</text>
<text x="345.00" y="402.00" text-anchor="end" font-size="10" >15</text>
<text x="345.00" y="383.00" text-anchor="end" font-size="10" >20</text>
<text x="345.00" y="363.00" text-anchor="end" font-size="10" >25</text>
<text x="345.00" y="344.00" text-anchor="end" font-size="10" >30</text>
<text x="345.00" y="324.00" text-anchor="end" font-size="10" >35</text>
<path d="M349 457.5H351M524 457.5H522M349 437.5H351M524 437.5H522M349 418.5H351M524 418.5H522M349 398.5H351M524 398.5H522M349 379.5H351M524 379.5H522M349 359.5H351M524 359.5H522M349 340.5H351M524 340.5H522M349 320.5H351M524 320.5H522" stroke="#000" stroke-width="1" shape-rendering="crispEdges"/>
<text x="436.50" y="304.00" text-anchor="middle" font-size="10" >Voltage: 1100 Single pe: 129.4</text>
<path d="M382.50 309.50L386.50 313.50M382.50 313.50L386.50 309.50M394.50 309.50L398.50 313.50M394.50 313.50L398.50 309.50M376.50 314.50L380.50 318.50M376.50 318.50L380.50 314.50M394.50 313.50L398.50 317.50M394.50 317.50L398.50 313.50M397.50 314.50L401.50 318.50M397.50 318.50L401.50 314.50M374.50 318.50L378.50 322.50M374.50 322.50L378.50 318.50M383.50 317.50L387.50 321.50M383.50 321.50L387.50 317.50M385.50 318.50L389.50 322.50M385.50 322.50L389.50 318.50M372.50 322.50L376.50 326.50M372.50 326.50L376.50 322.50M387.50 322.50L391.50 326.50M387.50 326.50L391.50 322.50M400.50 326.50L404.50 330.50M400.50 330.50L404.50 326.50M403.50 325.50L407.50 329.50M403.50 329.50L407.50 325.50M376.50 326.50L380.50 330.50M376.50 330.50L380.50 326.50M378.50 330.50L382.50 334.50M378.50 334.50L382.50 330.50M356.50 330.50L360.50 334.50M356.50 334.50L360.50 330.50M370.50 334.50L374.50 338.50M370.50 338.50L374.50 334.50M373.50 334.50L377.50 338.50M373.50 338.50L377.50 334.50M403.50 338.50L407.50 342.50M403.50 342.50L407.50 338.50M386.50 342.50L390.50 346.50M386.50 346.50L390.50 342.50M359.50 345.50L363.50 349.50M359.50 349.50L363.50 345.50M372.50 345.50L376.50 349.50M372.50 349.50L376.50 345.50M380.50 345.50L384.50 349.50M380.50 349.50L384.50 345.50M355.50 349.50L359.50 353.50M355.50 353.50L359.50 349.50M366.50 349.50L370.50 353.50M366.50 353.50L370.50 349.50M381.50 349.50L385.50 353.50M381.50 353.50L385.50 349.50M358.50 353.50L362.50 357.50M358.50 357.50L362.50 353.50M367.50 353.50L371.50 357.50M367.50 357.50L371.50 353.50M373.50 353.50L377.50 357.50M373.50 357.50L377.50 353.50M378.50 353.50L382.50 357.50M378.50 357.50L382.50 353.50M357.50 357.50L361.50 361.50M357.50 361.50L361.50 357.50M367.50 357.50L371.50 361.50M367.50 361.50L371.50 357.50M380.50 357.50L384.50 361.50M380.50 361.50L384.50 357.50M359.50 361.50L363.50 365.50M359.50 365.50L363.50 361.50M364.50 361.50L368.50 365.50M364.50 365.50L368.50 361.50M369.50 361.50L373.50 365.50M369.50 365.50L373.50 361.50M361.50 365.50L365.50 369.50M361.50 369.50L365.50 365.50M364.50 365.50L368.50 369.50M364.50 369.50L368.50 365.50M365.50 368.50L369.50 372.50M365.50 372.50L369.50 368.50M367.50 373.50L371.50 377.50M367.50 377.50L371.50 373.50M370.50 373.50L374.50 377.50M370.50 377.50L374.50 373.50M368.50 377.50L372.50 381.50M368.50 381.50L372.50 377.50M362.50 376.50L366.50 380.50M362.50 380.50L366.50 376.50M351.50 381.50L355.50 385.50M351.50 385.50L355.50 381.50M355.50 381.50L359.50 385.50M355.50 385.50L359.50 381.50M358.50 381.50L362.50 385.50M358.50 385.50L362.50 381.50M354.50 384.50L358.50 388.50M354.50 388.50L358.50 384.50M361.50 384.50L365.50 388.50M361.50 388.50L365.50 384.50M416.50 310.50L420.50 314.50M416.50 314.50L420.50 310.50M419.50 310.50L423.50 314.50M419.50 314.50L423.50 310.50M405.50 314.50L409.50 318.50M405.50 318.50L409.50 314.50M411.50 314.50L415.50 318.50M411.50 318.50L415.50 314.50M415.50 314.50L419.50 318.50M415.50 318.50L419.50 314.50M421.50 318.50L425.50 322.50M421.50 322.50L425.50 318.50M409.50 322.50L413.50 326.50M409.50 326.50L413.50 322.50M436.50 322.50L440.50 326.50M436.50 326.50L440.50 322.50M399.50 326.50L403.50 330.50M399.50 330.50L403.50 326.50M402.50 326.50L406.50 330.50M402.50 330.50L406.50 326.50M405.50 326.50L409.50 330.50M405.50 330.50L409.50 326.50M407.50 326.50L411.50 330.50M407.50 330.50L411.50 326.50M416.50 326.50L420.50 330.50M416.50 330.50L420.50 326.50M424.50 326.50L428.50 330.50M424.50 330.50L428.50 326.50M414.50 330.50L418.50 334.50M414.50 334.50L418.50 330.50M432.50 330.50L436.50 334.50M432.50 334.50L436.50 330.50M418.50 334.50L422.50 338.50M418.50 338.50L422.50 334.50M402.50 338.50L406.50 342.50M402.50 342.50L406.50 338.50M412.50 338.50L416.50 342.50M412.50 342.50L416.50 338.50M413.50 338.50L417.50 342.50M413.50 342.50L417.50 338.50M422.50 338.50L426.50 342.50M422.50 342.50L426.50 338.50M438.50 338.50L442.50 342.50M438.50 342.50L442.50 338.50M404.50 342.50L408.50 346.50M404.50 346.50L408.50 342.50M430.50 342.50L434.50 346.50M430.50 346.50L434.50 342.50M426.50 345.50L430.50 349.50M426.50 349.50L430.50 345.50M436.50 345.50L440.50 349.50M436.50 349.50L440.50 345.50M420.50 349.50L424.50 353.50M420.50 353.50L424.50 349.50M427.50 349.50L431.50 353.50M427.50 353.50L431.50 349.50M436.50 349.50L440.50 353.50M436.50 353.50L440.50 349.50M406.50 352.50L410.50 356.50M406.50 356.50L410.50 352.50M424.50 353.50L428.50 357.50M424.50 357.50L428.50 353.50M438.50 353.50L442.50 357.50M438.50 357.50L442.50 353.50M429.50 357.50L433.50 361.50M429.50 361.50L433.50 357.50M435.50 357.50L439.50 361.50M435.50 361.50L439.50 357.50M423.50 361.50L427.50 365.50M423.50 365.50L427.50 361.50M426.50 361.50L430.50 365.50M426.50 365.50L430.50 361.50M429.50 360.50L433.50 364.50M429.50 364.50L433.50 360.50M432.50 361.50L436.50 365.50M432.50 365.50L436.50 361.50M442.50 365.50L446.50 369.50M442.50 369.50L446.50 365.50M446.50 365.50L450.50 369.50M446.50 369.50L450.50 365.50M453.50 365.50L457.50 369.50M453.50 369.50L457.50 365.50M456.50 365.50L460.50 369.50M456.50 369.50L460.50 365.50M443.50 368.50L447.50 372.50M443.50 372.50L447.50 368.50M448.50 368.50L452.50 372.50M448.50 372.50L452.50 368.50M455.50 368.50L459.50 372.50M455.50 372.50L459.50 368.50M412.50 368.50L416.50 372.50M412.50 372.50L416.50 368.50M424.50 369.50L428.50 373.50M424.50 373.50L428.50 369.50M418.50 373.50L422.50 377.50M418.50 377.50L422.50 373.50M432.50 373.50L436.50 377.50M432.50 377.50L436.50 373.50M438.50 373.50L442.50 377.50M438.50 377.50L442.50 373.50M426.50 377.50L430.50 381.50M426.50 381.50L430.50 377.50M440.50 381.50L444.50 385.50M440.50 385.50L444.50 381.50M444.50 381.50L448.50 385.50M444.50 385.50L448.50 381.50M447.50 381.50L451.50 385.50M447.50 385.50L451.50 381.50M421.50 384.50L425.50 388.50M421.50 388.50L425.50 384.50M434.50 384.50L438.50 388.50M434.50 388.50L438.50 384.50M442.50 384.50L446.50 388.50M442.50 388.50L446.50 384.50M451.50 384.50L455.50 388.50M451.50 388.50L455.50 384.50M462.50 357.50L466.50 361.50M462.50 361.50L466.50 357.50M459.50 366.50L463.50 370.50M459.50 370.50L463.50 366.50M464.50 377.50L468.50 381.50M464.50 381.50L468.50 377.50M453.50 386.50L457.50 390.50M453.50 390.50L457.50 386.50M460.50 388.50L464.50 392.50M460.50 392.50L464.50 388.50M465.50 385.50L469.50 389.50M465.50 389.50L469.50 385.50M470.50 386.50L474.50 390.50M470.50 390.50L474.50 386.50M456.50 389.50L460.50 393.50M456.50 393.50L460.50 389.50M463.50 393.50L467.50 397.50M463.50 397.50L467.50 393.50M479.50 392.50L483.50 396.50M479.50 396.50L483.50 392.50M473.50 396.50L477.50 400.50M473.50 400.50L477.50 396.50M486.50 396.50L490.50 400.50M486.50 400.50L490.50 396.50M488.50 396.50L492.50 400.50M488.50 400.50L492.50 396.50M454.50 396.50L458.50 400.50M454.50 400.50L458.50 396.50M350.50 387.50L354.50 391.50M350.50 391.50L354.50 387.50M355.50 385.50L359.50 389.50M355.50 389.50L359.50 385.50M361.50 385.50L365.50 389.50M361.50 389.50L365.50 385.50M351.50 391.50L355.50 395.50M351.50 395.50L355.50 391.50M355.50 392.50L359.50 396.50M355.50 396.50L359.50 392.50M348.50 396.50L352.50 400.50M348.50 400.50L352.50 396.50M351.50 396.50L355.50 400.50M351.50 400.50L355.50 396.50M362.50 404.50L366.50 408.50M362.50 408.50L366.50 404.50M353.50 416.50L357.50 420.50M353.50 420.50L357.50 416.50M346.50 455.50L350.50 459.50M346.50 459.50L350.50 455.50M431.50 393.50L435.50 397.50M431.50 397.50L435.50 393.50M444.50 393.50L448.50 397.50M444.50 397.50L448.50 393.50M447.50 392.50L451.50 396.50M447.50 396.50L451.50 392.50M450.50 391.50L454.50 395.50M450.50 395.50L454.50 391.50M453.50 391.50L457.50 395.50M453.50 395.50L457.50 391.50M452.50 396.50L456.50 400.50M452.50 400.50L456.50 396.50M447.50 400.50L451.50 404.50M447.50 404.50L451.50 400.50M450.50 400.50L454.50 404.50M450.50 404.50L454.50 400.50M432.50 408.50L436.50 412.50M432.50 412.50L436.50 408.50M440.50 412.50L444.50 416.50M440.50 416.50L444.50 412.50M456.50 411.50L460.50 415.50M456.50 415.50L460.50 411.50M442.50 432.50L446.50 436.50M442.50 436.50L446.50 432.50M470.50 388.50L474.50 392.50M470.50 392.50L474.50 388.50M457.50 397.50L461.50 401.50M457.50 401.50L461.50 397.50M466.50 401.50L470.50 405.50M466.50 405.50L470.50 401.50M469.50 400.50L473.50 404.50M469.50 404.50L473.50 400.50M476.50 400.50L480.50 404.50M476.50 404.50L480.50 400.50M467.50 404.50L471.50 408.50M467.50 408.50L471.50 404.50M478.50 404.50L482.50 408.50M478.50 408.50L482.50 404.50M493.50 404.50L497.50 408.50M493.50 408.50L497.50 404.50M490.50 404.50L494.50 408.50M490.50 408.50L494.50 404.50M506.50 404.50L510.50 408.50M506.50 408.50L510.50 404.50M459.50 408.50L463.50 412.50M459.50 412.50L463.50 408.50M481.50 407.50L485.50 411.50M481.50 411.50L485.50 407.50M489.50 408.50L493.50 412.50M489.50 412.50L493.50 408.50M456.50 411.50L460.50 415.50M456.50 415.50L460.50 411.50M460.50 415.50L464.50 419.50M460.50 419.50L464.50 415.50M467.50 416.50L471.50 420.50M467.50 420.50L471.50 416.50M487.50 416.50L491.50 420.50M487.50 420.50L491.50 416.50M488.50 414.50L492.50 418.50M488.50 418.50L492.50 414.50M497.50 413.50L501.50 417.50M497.50 417.50L501.50 413.50M502.50 411.50L506.50 415.50M502.50 415.50L506.50 411.50M505.50 416.50L509.50 420.50M505.50 420.50L509.50 416.50M474.50 420.50L478.50 424.50M474.50 424.50L478.50 420.50M483.50 420.50L487.50 424.50M483.50 424.50L487.50 420.50M492.50 420.50L496.50 424.50M492.50 424.50L496.50 420.50M500.50 420.50L504.50 424.50M500.50 424.50L504.50 420.50M469.50 424.50L473.50 428.50M469.50 428.50L473.50 424.50M473.50 423.50L477.50 427.50M473.50 427.50L477.50 423.50M479.50 427.50L483.50 431.50M479.50 431.50L483.50 427.50M483.50 428.50L487.50 432.50M483.50 432.50L487.50 428.50M470.50 432.50L474.50 436.50M470.50 436.50L474.50 432.50M497.50 428.50L501.50 432.50M497.50 432.50L501.50 428.50M495.50 431.50L499.50 435.50M495.50 435.50L499.50 431.50M508.50 428.50L512.50 432.50M508.50 432.50L512.50 428.50M510.50 429.50L514.50 433.50M510.50 433.50L514.50 429.50M517.50 431.50L521.50 435.50M517.50 435.50L521.50 431.50M505.50 434.50L509.50 438.50M505.50 438.50L509.50 434.50M492.50 435.50L496.50 439.50M492.50 439.50L496.50 435.50M508.50 435.50L512.50 439.50M508.50 439.50L512.50 435.50M513.50 435.50L517.50 439.50M513.50 439.50L517.50 435.50M520.50 435.50L524.50 439.50M520.50 439.50L524.50 435.50M522.50 436.50L526.50 440.50M522.50 440.50L526.50 436.50M504.50 438.50L508.50 442.50M504.50 442.50L508.50 438.50M516.50 440.50L520.50 444.50M516.50 444.50L520.50 440.50M519.50 443.50L523.50 447.50M519.50 447.50L523.50 443.50M497.50 444.50L501.50 448.50M497.50 448.50L501.50 444.50M502.50 447.50L506.50 451.50M502.50 451.50L506.50 447.50M509.50 444.50L513.50 448.50M509.50 448.50L513.50 444.50M512.50 447.50L516.50 451.50M512.50 451.50L516.50 447.50M510.50 450.50L514.50 454.50M510.50 454.50L514.50 450.50M514.50 450.50L518.50 454.50M514.50 454.50L518.50 450.50M519.50 455.50L523.50 459.50M519.50 459.50L523.50 455.50M353.50 413.50L357.50 417.50M353.50 417.50L357.50 413.50M354.50 387.50L358.50 391.50M354.50 391.50L358.50 387.50M356.50 378.50L360.50 382.50M356.50 382.50L360.50 378.50M357.50 379.50L361.50 383.50M357.50 383.50L361.50 379.50M360.50 349.50L364.50 353.50M360.50 353.50L364.50 349.50M360.50 368.50L364.50 372.50M360.50 372.50L364.50 368.50M363.50 408.50L367.50 412.50M363.50 412.50L367.50 408.50M365.50 347.50L369.50 351.50M365.50 351.50L369.50 347.50M367.50 353.50L371.50 357.50M367.50 357.50L371.50 353.50M368.50 360.50L372.50 364.50M368.50 364.50L372.50 360.50M369.50 374.50L373.50 378.50M369.50 378.50L373.50 374.50M371.50 375.50L375.50 379.50M371.50 379.50L375.50 375.50M371.50 326.50L375.50 330.50M371.50 330.50L375.50 326.50M372.50 337.50L376.50 341.50M372.50 341.50L376.50 337.50M373.50 337.50L377.50 341.50M373.50 341.50L377.50 337.50M374.50 320.50L378.50 324.50M374.50 324.50L378.50 320.50M425.50 351.50L429.50 355.50M425.50 355.50L429.50 351.50M425.50 380.50L429.50 384.50M425.50 384.50L429.50 380.50M428.50 347.50L432.50 351.50M428.50 351.50L432.50 347.50M428.50 360.50L432.50 364.50M428.50 364.50L432.50 360.50M429.50 364.50L433.50 368.50M429.50 368.50L433.50 364.50M430.50 338.50L434.50 342.50M430.50 342.50L434.50 338.50M433.50 381.50L437.50 385.50M433.50 385.50L437.50 381.50M435.50 355.50L439.50 359.50M435.50 359.50L439.50 355.50M435.50 352.50L439.50 356.50M435.50 356.50L439.50 352.50M437.50 341.50L441.50 345.50M437.50 345.50L441.50 341.50M439.50 375.50L443.50 379.50M439.50 379.50L443.50 375.50M439.50 385.50L443.50 389.50M439.50 389.50L443.50 385.50M441.50 409.50L445.50 413.50M441.50 413.50L445.50 409.50M443.50 384.50L447.50 388.50M443.50 388.50L447.50 384.50M445.50 396.50L449.50 400.50M445.50 400.50L449.50 396.50M446.50 384.50L450.50 388.50M446.50 388.50L450.50 384.50M449.50 365.50L453.50 369.50M449.50 369.50L453.50 365.50M449.50 404.50L453.50 408.50M449.50 408.50L453.50 404.50M451.50 388.50L455.50 392.50M451.50 392.50L455.50 388.50M452.50 382.50L456.50 386.50M452.50 386.50L456.50 382.50M454.50 392.50L458.50 396.50M454.50 396.50L458.50 392.50M457.50 408.50L461.50 412.50M457.50 412.50L461.50 408.50M458.50 401.50L462.50 405.50M458.50 405.50L462.50 401.50M459.50 411.50L463.50 415.50M459.50 415.50L463.50 411.50M461.50 385.50L465.50 389.50M461.50 389.50L465.50 385.50M462.50 360.50L466.50 364.50M462.50 364.50L466.50 360.50M463.50 390.50L467.50 394.50M463.50 394.50L467.50 390.50M464.50 381.50L468.50 385.50M464.50 385.50L468.50 381.50M466.50 399.50L470.50 403.50M466.50 403.50L470.50 399.50M467.50 403.50L471.50 407.50M467.50 407.50L471.50 403.50M468.50 413.50L472.50 417.50M468.50 417.50L472.50 413.50M469.50 421.50L473.50 425.50M469.50 425.50L473.50 421.50M471.50 428.50L475.50 432.50M471.50 432.50L475.50 428.50M471.50 429.50L475.50 433.50M471.50 433.50L475.50 429.50M472.50 426.50L476.50 430.50M472.50 430.50L476.50 426.50M474.50 422.50L478.50 426.50M474.50 426.50L478.50 422.50M475.50 423.50L479.50 427.50M475.50 427.50L479.50 423.50M476.50 403.50L480.50 407.50M476.50 407.50L480.50 403.50M477.50 402.50L481.50 406.50M477.50 406.50L481.50 402.50M477.50 402.50L481.50 406.50M477.50 406.50L481.50 402.50M478.50 408.50L482.50 412.50M478.50 412.50L482.50 408.50M480.50 424.50L484.50 428.50M480.50 428.50L484.50 424.50M481.50 411.50L485.50 415.50M481.50 415.50L485.50 411.50M482.50 404.50L486.50 408.50M482.50 408.50L486.50 404.50M482.50 418.50L486.50 422.50M482.50 422.50L486.50 418.50M484.50 425.50L488.50 429.50M484.50 429.50L488.50 425.50M485.50 425.50L489.50 429.50M485.50 429.50L489.50 425.50M485.50 392.50L489.50 396.50M485.50 396.50L489.50 392.50M486.50 420.50L490.50 424.50M486.50 424.50L490.50 420.50M487.50 411.50L491.50 415.50M487.50 415.50L491.50 411.50M488.50 411.50L492.50 415.50M488.50 415.50L492.50 411.50M490.50 406.50L494.50 410.50M490.50 410.50L494.50 406.50M491.50 402.50L495.50 406.50M491.50 406.50L495.50 402.50M491.50 433.50L495.50 437.50M491.50 437.50L495.50 433.50M492.50 437.50L496.50 441.50M492.50 441.50L496.50 437.50M493.50 407.50L497.50 411.50M493.50 411.50L497.50 407.50M494.50 406.50L498.50 410.50M494.50 410.50L498.50 406.50M495.50 434.50L499.50 438.50M495.50 438.50L499.50 434.50M496.50 435.50L500.50 439.50M496.50 439.50L500.50 435.50M496.50 440.50L500.50 444.50M496.50 444.50L500.50 440.50M498.50 432.50L502.50 436.50M498.50 436.50L502.50 432.50M499.50 422.50L503.50 426.50M499.50 426.50L503.50 422.50M499.50 417.50L503.50 421.50M499.50 421.50L503.50 417.50M500.50 417.50L504.50 421.50M500.50 421.50L504.50 417.50M501.50 450.50L505.50 454.50M501.50 454.50L505.50 450.50M502.50 408.50L506.50 412.50M502.50 412.50L506.50 408.50M503.50 414.50L507.50 418.50M503.50 418.50L507.50 414.50M503.50 441.50L507.50 445.50M503.50 445.50L507.50 441.50M504.50 435.50L508.50 439.50M504.50 439.50L508.50 435.50M506.50 419.50L510.50 423.50M506.50 423.50L510.50 419.50M507.50 400.50L511.50 404.50M507.50 404.50L511.50 400.50M507.50 439.50L511.50 443.50M507.50 443.50L511.50 439.50M508.50 439.50L512.50 443.50M508.50 443.50L512.50 439.50M510.50 452.50L514.50 456.50M510.50 456.50L514.50 452.50M511.50 454.50L515.50 458.50M511.50 458.50L515.50 454.50M512.50 444.50L516.50 448.50M512.50 448.50L516.50 444.50M512.50 432.50L516.50 436.50M512.50 436.50L516.50 432.50M514.50 447.50L518.50 451.50M514.50 451.50L518.50 447.50M515.50 448.50L519.50 452.50M515.50 452.50L519.50 448.50M515.50 443.50L519.50 447.50M515.50 447.50L519.50 443.50M516.50 437.50L520.50 441.50M516.50 441.50L520.50 437.50M517.50 437.50L521.50 441.50M517.50 441.50L521.50 437.50M518.50 434.50L522.50 438.50M518.50 438.50L522.50 434.50M519.50 452.50L523.50 456.50M519.50 456.50L523.50 452.50M520.50 431.50L524.50 435.50M520.50 435.50L524.50 431.50M521.50 432.50L525.50 436.50M521.50 436.50L525.50 432.50M522.50 440.50L526.50 444.50M522.50 444.50L526.50 440.50" stroke="#0000ff" stroke-width="1" fill="none" clip-path="url(#clip4)" shape-rendering="crispEdges"/>
<path d="M348.00 457.47L348.39 457.41L348.62 312.00M351.13 312.00L351.24 457.14L351.81 457.50L352.38 457.50L352.95 457.50L353.52 457.50L354.09 457.50L354.66 457.50L355.23 457.50L355.80 457.50L356.37 457.50L356.94 457.50L357.51 457.50L358.08 457.50L358.65 457.50L359.22 457.50L359.79 457.50L360.36 457.50L360.93 457.50L361.50 457.50L362.07 457.50L362.64 457.50L363.21 457.50L363.78 457.50L364.35 457.50L364.92 457.50L365.49 457.50L366.06 457.50L366.63 457.50L367.20 457.50L367.77 457.50L368.34 457.50L368.91 457.50L369.48 457.50L370.05 457.50L370.62 457.50L371.19 457.50L371.76 457.50L372.33 457.50L372.90 457.50L373.47 457.50L374.04 457.50L374.61 457.50L375.18 457.50L375.75 457.50L376.32 457.50L376.89 457.50L377.46 457.50L378.03 457.50L378.60 457.50L379.17 457.50L379.74 457.50L380.31 457.50L380.88 457.50L381.45 457.50L382.02 457.50L382.59 457.50L383.16 457.50L383.73 457.50L384.30 457.50L384.87 457.50L385.44 457.50L386.01 457.50L386.58 457.50L387.15 457.50L387.72 457.50L388.29 457.50L388.86 457.50L389.43 457.50L390.00 457.50L390.57 457.50L391.14 457.50L391.71 457.50L392.28 457.50L392.85 457.50L393.42 457.50L393.99 457.50L394.56 457.50L395.13 457.50L395.70 457.50L396.27 457.50L396.84 457.50L397.41 457.50L397.98 457.50L398.55 457.50L399.12 457.50L399.69 457.50L400.26 457.50L400.83 457.50L401.40 457.50L401.97 457.50L402.54 457.50L403.11 457.50L403.68 457.50L404.25 457.50L404.82 457.50L405.39 457.50L405.96 457.50L406.53 457.50L407.10 457.50L407.67 457.50L408.24 457.50L408.81 457.50L409.38 457.50L409.95 457.50L410.52 457.50L411.09 457.50L411.66 457.50L412.23 457.50L412.80 457.50L413.37 457.50L413.94 457.50L414.51 457.50L415.08 457.50L415.65 457.50L416.22 457.50L416.79 457.50L417.36 457.50L417.93 457.50L418.50 457.50L419.07 457.50L419.64 457.50L420.21 457.50L420.78 457.50L421.35 457.50L421.92 457.50L422.49 457.50L423.06 457.50L423.63 457.50L424.20 457.50L424.77 457.50L425.34 457.50L425.91 457.50L426.48 457.50L427.05 457.50L427.62 457.50L428.19 457.50L428.76 457.50L429.33 457.50L429.90 457.50L430.47 457.50L431.04 457.50L431.61 457.50L432.18 457.50L432.75 457.50L433.32 457.50L433.89 457.50L434.46 457.50L435.03 457.50L435.60 457.50L436.17 457.50L436.74 457.50L437.31 457.50L437.88 457.50L438.45 457.50L439.02 457.50L439.59 457.50L440.16 457.50L440.73 457.50L441.30 457.50L441.87 457.50L442.44 457.50L443.01 457.50L443.58 457.50L444.15 457.50L444.72 457.50L445.29 457.50L445.86 457.50L446.43 457.50L447.00 457.50L447.57 457.50L448.14 457.50L448.71 457.50L449.28 457.50L449.85 457.50L450.42 457.50L450.99 457.50L451.56 457.50L452.13 457.50L452.70 457.50L453.27 457.50L453.84 457.50L454.41 457.50L454.98 457.50L455.55 457.50L456.12 457.50L456.69 457.50L457.26 457.50L457.83 457.50L458.40 457.50L458.97 457.50L459.54 457.50L460.11 457.50L460.68 457.50L461.25 457.50L461.82 457.50L462.39 457.50L462.96 457.50L463.53 457.50L464.10 457.50L464.67 457.50L465.24 457.50L465.81 457.50L466.38 457.50L466.95 457.50L467.52 457.50L468.09 457.50L468.66 457.50L469.23 457.50L469.80 457.50L470.37 457.50L470.94 457.50L471.51 457.50L472.08 457.50L472.65 457.50L473.22 457.50L473.79 457.50L474.36 457.50L474.93 457.50L475.50 457.50L476.07 457.50L476.64 457.50L477.21 457.50L477.78 457.50L478.35 457.50L478.92 457.50L479.49 457.50L480.06 457.50L480.63 457.50L481.20 457.50L481.77 457.50L482.34 457.50L482.91 457.50L483.48 457.50L484.05 457.50L484.62 457.50L485.19 457.50L485.76 457.50L486.33 457.50L486.90 457.50L487.47 457.50L488.04 457.50L488.61 457.50L489.18 457.50L489.75 457.50L490.32 457.50L490.89 457.50L491.46 457.50L492.03 457.50L492.60 457.50L493.17 457.50L493.74 457.50L494.31 457.50L494.88 457.50L495.45 457.50L496.02 457.50L496.59 457.50L497.16 457.50L497.73 457.50L498.30 457.50L498.87 457.50L499.44 457.50L500.01 457.50L500.58 457.50L501.15 457.50L501.72 457.50L502.29 457.50L502.86 457.50L503.43 457.50L504.00 457.50L504.57 457.50L505.14 457.50L505.71 457.50L506.28 457.50L506.85 457.50L507.42 457.50L507.99 457.50L508.56 457.50L509.13 457.50L509.70 457.50L510.27 457.50L510.84 457.50L511.41 457.50L511.98 457.50L512.55 457.50L513.12 457.50L513.69 457.50L514.26 457.50L514.83 457.50L515.40 457.50L515.97 457.50L516.54 457.50L517.11 457.50L517.68 457.50L518.25 457.50L518.82 457.50L519.39 457.50L519.96 457.50L520.53 457.50L521.10 457.50L521.67 457.50L522.24 457.50L522.81 457.50L523.38 457.50L523.95 457.50L524.52 457.50L525.00 457.50" fill="none" stroke="#ff0000" stroke-width="1" shape-rendering="crispEdges"/>
<path d="M348.00 430.19L348.39 429.49L348.96 428.44L349.53 427.36L350.10 426.25L350.67 425.12L351.24 423.97L351.81 422.79L352.38 421.58L352.95 420.35L353.52 419.10L354.09 417.83L354.66 416.53L355.23 415.21L355.80 413.86L356.37 412.50L356.94 411.11L357.51 409.71L358.08 408.29L358.65 406.84L359.22 405.39L359.79 403.91L360.36 402.42L360.93 400.91L361.50 399.39L362.07 397.86L362.64 396.32L363.21 394.76L363.78 393.20L364.35 391.63L364.92 390.05L365.49 388.47L366.06 386.89L366.63 385.30L367.20 383.71L367.77 382.13L368.34 380.54L368.91 378.96L369.48 377.39L370.05 375.82L370.62 374.26L371.19 372.72L371.76 371.18L372.33 369.66L372.90 368.15L373.47 366.67L374.04 365.20L374.61 363.75L375.18 362.32L375.75 360.92L376.32 359.54L376.89 358.20L377.46 356.88L378.03 355.59L378.60 354.33L379.17 353.11L379.74 351.93L380.31 350.78L380.88 349.67L381.45 348.60L382.02 347.57L382.59 346.59L383.16 345.65L383.73 344.75L384.30 343.91L384.87 343.11L385.44 342.36L386.01 341.66L386.58 341.01L387.15 340.41L387.72 339.87L388.29 339.37L388.86 338.94L389.43 338.56L390.00 338.23L390.57 337.96L391.14 337.75L391.71 337.59L392.28 337.49L392.85 337.45L393.42 337.46L393.99 337.53L394.56 337.66L395.13 337.84L395.70 338.08L396.27 338.38L396.84 338.73L397.41 339.14L397.98 339.60L398.55 340.12L399.12 340.69L399.69 341.31L400.26 341.99L400.83 342.71L401.40 343.49L401.97 344.31L402.54 345.18L403.11 346.09L403.68 347.06L404.25 348.06L404.82 349.11L405.39 350.20L405.96 351.33L406.53 352.49L407.10 353.70L407.67 354.93L408.24 356.20L408.81 357.51L409.38 358.84L409.95 360.20L410.52 361.59L411.09 363.00L411.66 364.44L412.23 365.90L412.80 367.38L413.37 368.87L413.94 370.39L414.51 371.92L415.08 373.46L415.65 375.01L416.22 376.57L416.79 378.14L417.36 379.72L417.93 381.30L418.50 382.89L419.07 384.48L419.64 386.06L420.21 387.65L420.78 389.23L421.35 390.81L421.92 392.38L422.49 393.95L423.06 395.51L423.63 397.06L424.20 398.60L424.77 400.12L425.34 401.64L425.91 403.14L426.48 404.62L427.05 406.09L427.62 407.54L428.19 408.97L428.76 410.39L429.33 411.78L429.90 413.16L430.47 414.51L431.04 415.84L431.61 417.15L432.18 418.44L432.75 419.70L433.32 420.95L433.89 422.16L434.46 423.36L435.03 424.52L435.60 425.67L436.17 426.79L436.74 427.88L437.31 428.95L437.88 429.99L438.45 431.00L439.02 432.00L439.59 432.96L440.16 433.90L440.73 434.82L441.30 435.71L441.87 436.57L442.44 437.41L443.01 438.23L443.58 439.02L444.15 439.79L444.72 440.53L445.29 441.25L445.86 441.95L446.43 442.62L447.00 443.27L447.57 443.90L448.14 444.51L448.71 445.10L449.28 445.66L449.85 446.21L450.42 446.74L450.99 447.24L451.56 447.73L452.13 448.20L452.70 448.65L453.27 449.08L453.84 449.49L454.41 449.89L454.98 450.27L455.55 450.64L456.12 450.99L456.69 451.32L457.26 451.64L457.83 451.95L458.40 452.24L458.97 452.52L459.54 452.79L460.11 453.05L460.68 453.29L461.25 453.52L461.82 453.74L462.39 453.95L462.96 454.15L463.53 454.34L464.10 454.52L464.67 454.70L465.24 454.86L465.81 455.01L466.38 455.16L466.95 455.30L467.52 455.43L468.09 455.56L468.66 455.68L469.23 455.79L469.80 455.89L470.37 455.99L470.94 456.09L471.51 456.18L472.08 456.26L472.65 456.34L473.22 456.42L473.79 456.49L474.36 456.55L474.93 456.61L475.50 456.67L476.07 456.73L476.64 456.78L477.21 456.83L477.78 456.87L478.35 456.92L478.92 456.96L479.49 457.00L480.06 457.03L480.63 457.06L481.20 457.09L481.77 457.12L482.34 457.15L482.91 457.18L483.48 457.20L484.05 457.22L484.62 457.24L485.19 457.26L485.76 457.28L486.33 457.29L486.90 457.31L487.47 457.32L488.04 457.34L488.61 457.35L489.18 457.36L489.75 457.37L490.32 457.38L490.89 457.39L491.46 457.40L492.03 457.41L492.60 457.42L493.17 457.42L493.74 457.43L494.31 457.43L494.88 457.44L495.45 457.44L496.02 457.45L496.59 457.45L497.16 457.46L497.73 457.46L498.30 457.46L498.87 457.47L499.44 457.47L500.01 457.47L500.58 457.47L501.15 457.48L501.72 457.48L502.29 457.48L502.86 457.48L503.43 457.48L504.00 457.49L504.57 457.49L505.14 457.49L505.71 457.49L506.28 457.49L506.85 457.49L507.42 457.49L507.99 457.49L508.56 457.49L509.13 457.49L509.70 457.49L510.27 457.49L510.84 457.50L511.41 457.50L511.98 457.50L512.55 457.50L513.12 457.50L513.69 457.50L514.26 457.50L514.83 457.50L515.40 457.50L515.97 457.50L516.54 457.50L517.11 457.50L517.68 457.50L518.25 457.50L518.82 457.50L519.39 457.50L519.96 457.50L520.53 457.50L521.10 457.50L521.67 457.50L522.24 457.50L522.81 457.50L523.38 457.50L523.95 457.50L524.52 457.50L525.00 457.50" fill="none" stroke="#00ff00" stroke-width="1" shape-rendering="crispEdges"/>
<path d="M351.24 457.5H499" stroke="#ff0000" stroke-width="1" shape-rendering="crispEdges"/>
<path d="M348.00 450.14L348.39 450.00L348.96 449.79L349.53 449.58L350.10 449.36L350.67 449.14L351.24 448.91L351.81 448.68L352.38 448.45L352.95 448.21L353.52 447.96L354.09 447.71L354.66 447.46L355.23 447.20L355.80 446.93L356.37 446.66L356.94 446.39L357.51 446.11L358.08 445.82L358.65 445.54L359.22 445.24L359.79 444.94L360.36 444.64L360.93 444.33L361.50 444.01L362.07 443.70L362.64 443.37L363.21 443.04L363.78 442.71L364.35 442.37L364.92 442.02L365.49 441.67L366.06 441.32L366.63 440.96L367.20 440.60L367.77 440.23L368.34 439.85L368.91 439.47L369.48 439.09L370.05 438.70L370.62 438.31L371.19 437.91L371.76 437.51L372.33 437.10L372.90 436.69L373.47 436.27L374.04 435.85L374.61 435.42L375.18 434.99L375.75 434.56L376.32 434.12L376.89 433.67L377.46 433.23L378.03 432.78L378.60 432.32L379.17 431.86L379.74 431.40L380.31 430.93L380.88 430.46L381.45 429.99L382.02 429.51L382.59 429.03L383.16 428.55L383.73 428.07L384.30 427.58L384.87 427.09L385.44 426.59L386.01 426.10L386.58 425.60L387.15 425.10L387.72 424.60L388.29 424.09L388.86 423.59L389.43 423.08L390.00 422.57L390.57 422.06L391.14 421.55L391.71 421.04L392.28 420.52L392.85 420.01L393.42 419.50L393.99 418.98L394.56 418.47L395.13 417.95L395.70 417.44L396.27 416.93L396.84 416.41L397.41 415.90L397.98 415.39L398.55 414.88L399.12 414.38L399.69 413.87L400.26 413.37L400.83 412.87L401.40 412.37L401.97 411.87L402.54 411.38L403.11 410.89L403.68 410.40L404.25 409.91L404.82 409.43L405.39 408.96L405.96 408.48L406.53 408.01L407.10 407.55L407.67 407.09L408.24 406.64L408.81 406.19L409.38 405.74L409.95 405.30L410.52 404.87L411.09 404.44L411.66 404.02L412.23 403.60L412.80 403.19L413.37 402.79L413.94 402.39L414.51 402.01L415.08 401.62L415.65 401.25L416.22 400.88L416.79 400.53L417.36 400.17L417.93 399.83L418.50 399.50L419.07 399.17L419.64 398.85L420.21 398.54L420.78 398.24L421.35 397.95L421.92 397.67L422.49 397.40L423.06 397.14L423.63 396.88L424.20 396.64L424.77 396.41L425.34 396.18L425.91 395.97L426.48 395.77L427.05 395.58L427.62 395.39L428.19 395.22L428.76 395.06L429.33 394.91L429.90 394.77L430.47 394.64L431.04 394.52L431.61 394.42L432.18 394.32L432.75 394.24L433.32 394.16L433.89 394.10L434.46 394.05L435.03 394.01L435.60 393.98L436.17 393.97L436.74 393.96L437.31 393.96L437.88 393.98L438.45 394.01L439.02 394.05L439.59 394.10L440.16 394.16L440.73 394.23L441.30 394.32L441.87 394.41L442.44 394.52L443.01 394.64L443.58 394.77L444.15 394.90L444.72 395.05L445.29 395.21L445.86 395.39L446.43 395.57L447.00 395.76L447.57 395.96L448.14 396.18L448.71 396.40L449.28 396.63L449.85 396.87L450.42 397.13L450.99 397.39L451.56 397.66L452.13 397.94L452.70 398.23L453.27 398.53L453.84 398.84L454.41 399.16L454.98 399.48L455.55 399.82L456.12 400.16L456.69 400.51L457.26 400.87L457.83 401.24L458.40 401.61L458.97 401.99L459.54 402.38L460.11 402.77L460.68 403.18L461.25 403.59L461.82 404.00L462.39 404.42L462.96 404.85L463.53 405.28L464.10 405.72L464.67 406.17L465.24 406.62L465.81 407.07L466.38 407.53L466.95 408.00L467.52 408.46L468.09 408.94L468.66 409.41L469.23 409.90L469.80 410.38L470.37 410.87L470.94 411.36L471.51 411.85L472.08 412.35L472.65 412.85L473.22 413.35L473.79 413.85L474.36 414.36L474.93 414.86L475.50 415.37L476.07 415.88L476.64 416.39L477.21 416.91L477.78 417.42L478.35 417.93L478.92 418.45L479.49 418.96L480.06 419.47L480.63 419.99L481.20 420.50L481.77 421.01L482.34 421.53L482.91 422.04L483.48 422.55L484.05 423.06L484.62 423.56L485.19 424.07L485.76 424.58L486.33 425.08L486.90 425.58L487.47 426.08L488.04 426.57L488.61 427.07L489.18 427.56L489.75 428.05L490.32 428.53L490.89 429.02L491.46 429.49L492.03 429.97L492.60 430.44L493.17 430.91L493.74 431.38L494.31 431.84L494.88 432.30L495.45 432.76L496.02 433.21L496.59 433.66L497.16 434.10L497.73 434.54L498.30 434.97L498.87 435.40L499.44 435.83L500.01 436.25L500.58 436.67L501.15 437.08L501.72 437.49L502.29 437.89L502.86 438.29L503.43 438.69L504.00 439.07L504.57 439.46L505.14 439.84L505.71 440.21L506.28 440.58L506.85 440.95L507.42 441.31L507.99 441.66L508.56 442.01L509.13 442.35L509.70 442.69L510.27 443.03L510.84 443.36L511.41 443.68L511.98 444.00L512.55 444.32L513.12 444.63L513.69 444.93L514.26 445.23L514.83 445.52L515.40 445.81L515.97 446.10L516.54 446.38L517.11 446.65L517.68 446.92L518.25 447.19L518.82 447.45L519.39 447.70L519.96 447.95L520.53 448.20L521.10 448.44L521.67 448.67L522.24 448.91L522.81 449.13L523.38 449.35L523.95 449.57L524.52 449.79L525.00 449.96" fill="none" stroke="#0000ff" stroke-width="1" shape-rendering="crispEdges"/>
<path d="M348.00 422.80L348.39 421.91L348.56 312.00M351.16 312.00L351.24 415.02L351.81 413.97L352.38 412.53L352.95 411.06L353.52 409.56L354.09 408.04L354.66 406.48L355.23 404.90L355.80 403.29L356.37 401.66L356.94 400.00L357.51 398.32L358.08 396.61L358.65 394.88L359.22 393.13L359.79 391.35L360.36 389.56L360.93 387.74L361.50 385.91L362.07 384.06L362.64 382.19L363.21 380.31L363.78 378.41L364.35 376.50L364.92 374.58L365.49 372.65L366.06 370.71L366.63 368.76L367.20 366.81L367.77 364.85L368.34 362.90L368.91 360.94L369.48 358.98L370.05 357.02L370.62 355.07L371.19 353.12L371.76 351.19L372.33 349.26L372.90 347.34L373.47 345.43L374.04 343.54L374.61 341.67L375.18 339.81L375.75 337.98L376.32 336.16L376.89 334.37L377.46 332.60L378.03 330.87L378.60 329.16L379.17 327.48L379.74 325.83L380.31 324.21L380.88 322.63L381.45 321.09L382.02 319.59L382.59 318.12L383.16 316.70L383.73 315.32L384.30 313.98L384.87 312.69L385.18 312.00M412.23 312.00L412.23 312.00L412.80 313.07L413.37 314.17L413.94 315.28L414.51 316.42L415.08 317.58L415.65 318.76L416.22 319.96L416.79 321.17L417.36 322.40L417.93 323.63L418.50 324.89L419.07 326.15L419.64 327.42L420.21 328.69L420.78 329.98L421.35 331.27L421.92 332.56L422.49 333.85L423.06 335.15L423.63 336.44L424.20 337.74L424.77 339.03L425.34 340.32L425.91 341.61L426.48 342.89L427.05 344.16L427.62 345.43L428.19 346.69L428.76 347.95L429.33 349.19L429.90 350.43L430.47 351.65L431.04 352.87L431.61 354.07L432.18 355.26L432.75 356.44L433.32 357.61L433.89 358.76L434.46 359.91L435.03 361.03L435.60 362.15L436.17 363.25L436.74 364.34L437.31 365.41L437.88 366.47L438.45 367.51L439.02 368.54L439.59 369.56L440.16 370.56L440.73 371.55L441.30 372.53L441.87 373.49L442.44 374.43L443.01 375.37L443.58 376.29L444.15 377.19L444.72 378.09L445.29 378.97L445.86 379.84L446.43 380.69L447.00 381.53L447.57 382.37L448.14 383.19L448.71 384.00L449.28 384.80L449.85 385.58L450.42 386.36L450.99 387.13L451.56 387.89L452.13 388.64L452.70 389.38L453.27 390.11L453.84 390.83L454.41 391.55L454.98 392.25L455.55 392.95L456.12 393.65L456.69 394.33L457.26 395.01L457.83 395.69L458.40 396.35L458.97 397.01L459.54 397.67L460.11 398.32L460.68 398.97L461.25 399.61L461.82 400.24L462.39 400.88L462.96 401.50L463.53 402.13L464.10 402.75L464.67 403.36L465.24 403.98L465.81 404.59L466.38 405.19L466.95 405.80L467.52 406.40L468.09 407.00L468.66 407.59L469.23 408.18L469.80 408.77L470.37 409.36L470.94 409.95L471.51 410.53L472.08 411.11L472.65 411.69L473.22 412.26L473.79 412.84L474.36 413.41L474.93 413.98L475.50 414.55L476.07 415.11L476.64 415.67L477.21 416.24L477.78 416.79L478.35 417.35L478.92 417.90L479.49 418.46L480.06 419.00L480.63 419.55L481.20 420.10L481.77 420.64L482.34 421.18L482.91 421.71L483.48 422.25L484.05 422.78L484.62 423.31L485.19 423.83L485.76 424.35L486.33 424.87L486.90 425.39L487.47 425.90L488.04 426.41L488.61 426.92L489.18 427.42L489.75 427.92L490.32 428.41L490.89 428.91L491.46 429.39L492.03 429.88L492.60 430.36L493.17 430.84L493.74 431.31L494.31 431.78L494.88 432.24L495.45 432.70L496.02 433.16L496.59 433.61L497.16 434.06L497.73 434.50L498.30 434.94L498.87 435.37L499.44 435.80L500.01 436.22L500.58 436.64L501.15 437.06L501.72 437.47L502.29 437.87L502.86 438.27L503.43 438.67L504.00 439.06L504.57 439.45L505.14 439.83L505.71 440.20L506.28 440.57L506.85 440.94L507.42 441.30L507.99 441.65L508.56 442.00L509.13 442.35L509.70 442.69L510.27 443.02L510.84 443.35L511.41 443.68L511.98 444.00L512.55 444.31L513.12 444.62L513.69 444.93L514.26 445.23L514.83 445.52L515.40 445.81L515.97 446.10L516.54 446.38L517.11 446.65L517.68 446.92L518.25 447.18L518.82 447.44L519.39 447.70L519.96 447.95L520.53 448.20L521.10 448.44L521.67 448.67L522.24 448.90L522.81 449.13L523.38 449.35L523.95 449.57L524.52 449.79L525.00 449.96" fill="none" stroke="#000000" stroke-width="1" shape-rendering="crispEdges"/>
<text x="106.00" y="507.00" text-anchor="start" font-size="10" >PMT fa0821 Slot: 11 Ch: 2</text>
<text x="106.00" y="522.00" text-anchor="start" font-size="10" >Gain@1000V: 37.4 Ped: 53</text>
<text x="106.00" y="536.00" text-anchor="start" font-size="10" >Voltage Settings</text>
<text x="106.00" y="551.00" text-anchor="start" font-size="10" >0.5 dc/pe : 567 V</text>
<text x="106.00" y="565.00" text-anchor="start" font-size="10" >1.0 dc/pe : 621 V</text>
<text x="106.00" y="580.00" text-anchor="start" font-size="10" >1.5 dc/pe : 655 V</text>
<text x="106.00" y="594.00" text-anchor="start" font-size="10" >2.0 dc/pe : 680 V</text>
<text x="106.00" y="609.00" text-anchor="start" font-size="10" >2.5 dc/pe : 701 V</text>
<text x="106.00" y="623.00" text-anchor="start" font-size="10" >3.0 dc/pe : 718 V</text>
<text x="106.00" y="638.00" text-anchor="start" font-size="10" >3.5 dc/pe : 732 V</text>
<text x="106.00" y="652.00" text-anchor="start" font-size="10" >4.0 dc/pe : 745 V</text>
<text x="436.50" y="496.00" text-anchor="middle" font-size="10" >fa0821: 7.607870,-21.250171</text>
<path d="M348 507.5H524M348 510.5H524M348 514.5H524M348 519.5H524M348 525.5H524M348 532.5H524M348 541.5H524M348 554.5H524M348 579.5H524M348 583.5H524M348 587.5H524M348 592.5H524M348 597.5H524M348 605.5H524M348 614.5H524M348 626.5H524" stroke="#000" stroke-width="1" stroke-dasharray="2 3 1 3" stroke-dashoffset="5" shape-rendering="crispEdges"/>
<path d="M348 576.5H524M391.5 503V649M430.5 503V649M464.5 503V649M496.5 503V649" stroke="#000" stroke-width="1" shape-rendering="crispEdges"/>
<rect x="348.5" y="503.5" width="176" height="145" fill="none" stroke="#000" stroke-width="1" shape-rendering="crispEdges"/>
<text x="348.50" y="661.50" text-anchor="middle" font-size="10" >700</text>
<text x="391.50" y="661.50" text-anchor="middle" font-size="10" >800</text>
<text x="430.50" y="661.50" text-anchor="middle" font-size="10" >900</text>
<text x="464.50" y="661.50" text-anchor="middle" font-size="10" >1000</text>
<text x="496.50" y="661.50" text-anchor="middle" font-size="10" >1100</text>
<text x="524.50" y="661.50" text-anchor="middle" font-size="10" >1200</text>
<text x="341.00" y="652.50" text-anchor="end" font-size="10" >10</text>
<text x="341.50" y="645.50" text-anchor="start" font-size="7" >0</text>
<text x="341.00" y="580.50" text-anchor="end" font-size="10" >10</text>
<text x="341.50" y="573.50" text-anchor="start" font-size="7" >1</text>
<text x="341.00" y="507.50" text-anchor="end" font-size="10" >10</text>
<text x="341.50" y="500.50" text-anchor="start" font-size="7" >2</text>
<text x="436.50" y="674.00" text-anchor="middle" font-size="10" >voltage [V]</text>
<text transform="translate(327,576) rotate(-90)" text-anchor="middle" font-size="10">gain [dc/pe]</text>
<polyline points="391.50,587.88 430.50,559.66 464.50,534.43 496.50,511.59" fill="none" stroke="#ff0000" stroke-width="1" shape-rendering="crispEdges"/>
<circle cx="391.50" cy="587.88" r="3" fill="none" stroke="#0000ff" stroke-width="1"/>
<circle cx="430.50" cy="559.66" r="3" fill="none" stroke="#0000ff" stroke-width="1"/>
<circle cx="464.50" cy="534.43" r="3" fill="none" stroke="#0000ff" stroke-width="1"/>
<circle cx="496.50" cy="511.59" r="3" fill="none" stroke="#0000ff" stroke-width="1"/>
</svg></body></html>
